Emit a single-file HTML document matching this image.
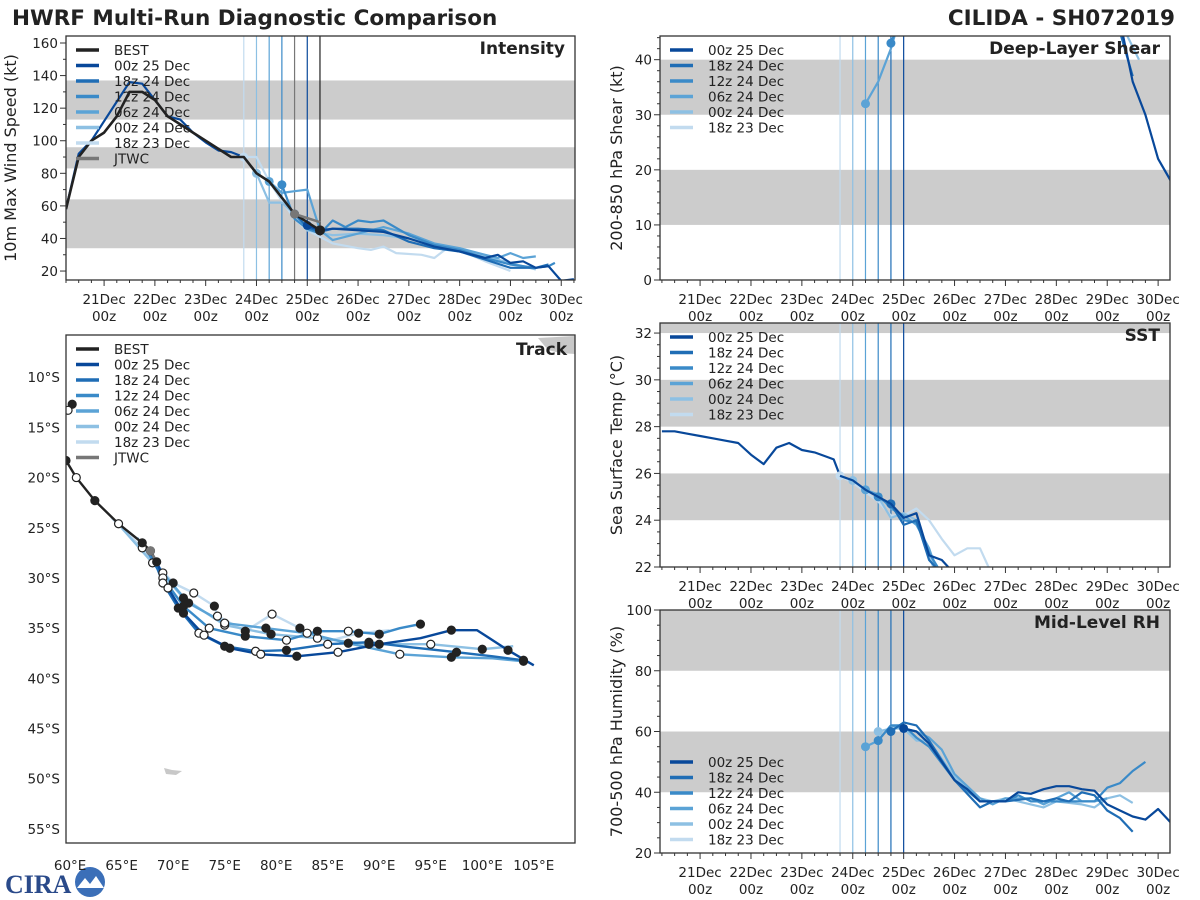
<!DOCTYPE html>
<html><head><meta charset="utf-8">
<style>
html,body{margin:0;padding:0;background:#fff;}
svg{display:block;font-family:"DejaVu Sans","Liberation Sans",sans-serif;}
</style></head>
<body>
<svg id="fig" width="1200" height="900" viewBox="0 0 1200 900">
<rect x="0" y="0" width="1200" height="900" fill="#fff"/>
<text x="12" y="25" font-size="21.5" font-weight="bold" fill="#222">HWRF Multi-Run Diagnostic Comparison</text>
<text x="1175" y="25" font-size="21.5" font-weight="bold" fill="#222" text-anchor="end">CILIDA - SH072019</text>
<g>
<text x="5" y="893" font-size="26" font-weight="bold" fill="#2a4a8a" font-family="Liberation Serif, serif">CIRA</text>
<circle cx="90" cy="882" r="15" fill="#3b6fb8"/>
<path d="M77 888 L85 878 L90 884 L96 876 L104 888 Z" fill="#fff"/>
</g>
</svg>
<script>
// ---------------- data (hours since 20 Dec 00z) ----------------
const runNames = ["00z 25 Dec","18z 24 Dec","12z 24 Dec","06z 24 Dec","00z 24 Dec","18z 23 Dec"];
const runColors = ["#08489a","#1f6db5","#3a8ac8","#5ba3d6","#8dc0e3","#c2dbef"];
const runInitHours = [120,114,108,102,96,90];
const dayTickLabels = ["21Dec","22Dec","23Dec","24Dec","25Dec","26Dec","27Dec","28Dec","29Dec","30Dec"];
const dayTickHours = [24,48,72,96,120,144,168,192,216,240];

// Intensity (kt)
const bestHours = [6,12,18,24,30,36,42,48,54,60,66,72,78,84,90,96,102,108,114,120,126];
const bestWind  = [58,90,100,105,115,130,130,125,115,110,105,100,95,90,90,80,75,65,55,50,45];
const jtwcHours = [114,126];
const jtwcWind  = [55,50];
const histHours = [6,12,18,24,30,36,42,48,54,60,66,72,78,84,90,96];
const histWind  = [58,92,100,112,124,136,135,125,115,113,105,99,94,93,90,80];
const intH0 = [120,126,132,144,156,168,180,192,204,210,216,222,228,234,240,246];
const intV0 = [48,45,46,45,44,40,35,32,28,30,25,26,22,23,14,15];
const intH1 = [114,120,126,132,144,156,168,180,192,204,216,228,234];
const intV1 = [55,47,44,46,46,45,38,34,32,27,22,22,24];
const intH2 = [108,114,120,126,132,138,144,150,156,168,180,192,204,216,228,234,237];
const intV2 = [73,52,46,43,51,47,51,50,51,42,36,33,28,24,22,23,25];
const intH3 = [102,108,114,120,126,132,144,156,168,180,192,204,210,216,222,228];
const intV3 = [75,68,69,70,45,39,43,47,43,37,34,30,28,31,28,29];
const intH4 = [96,102,108,114,120,132,144,156,168,180,192,204,216,228];
const intV4 = [80,62,62,55,45,42,43,42,40,36,34,29,25,21];
const intH5 = [90,96,102,108,114,120,132,144,150,156,162,174,180,186,192,204,216];
const intV5 = [90,90,75,63,52,45,37,34,33,35,31,30,28,34,33,26,20];

// Shear (kt)
const shrH0 = [222,228,234,240,246];
const shrV0 = [47,36,30,22,18];
const shrH1 = [222,228];
const shrV1 = [45,37];
const shrH2 = [114,117];
const shrV2 = [43,46];
const shrH3 = [102,108,114,117];
const shrV3 = [32,36,42,46];
const shrH4 = [222,231];
const shrV4 = [47,40];

// SST (C)
const sstHistH = [6,12,18,24,30,36,42,48,54,60,66,72,78,84,87,90];
const sstHistV = [27.8,27.8,27.7,27.6,27.5,27.4,27.3,26.8,26.4,27.1,27.3,27.0,26.9,26.7,26.6,25.9];
const sstH0 = [90,96,102,108,114,120,126,132,138,141];
const sstV0 = [25.9,25.7,25.3,25.0,24.7,24.1,24.3,22.5,22.3,22.0];
const sstH1 = [114,120,126,132,135];
const sstV1 = [24.7,23.8,24.0,22.3,22.0];
const sstH2 = [108,114,120,126,132,136];
const sstV2 = [25.0,24.6,24.0,23.9,22.6,22.0];
const sstH3 = [102,108,114,120,126,132,135];
const sstV3 = [25.3,25.1,24.5,24.2,23.8,22.8,22.0];
const sstH4 = [96,102,108,114,120,126,132,134];
const sstV4 = [25.7,25.3,25.0,24.1,24.3,24.0,22.5,22.0];
const sstH5 = [90,96,102,108,114,120,126,132,138,144,150,156,160];
const sstV5 = [25.9,25.6,25.2,24.8,24.2,24.2,24.5,24.0,23.2,22.5,22.8,22.8,22.0];

// RH (%)
const rhH0 = [120,126,132,138,144,150,156,162,168,174,180,186,192,198,204,210,216,222,228,234,240,246];
const rhV0 = [61,60,56,50,44,41,37,37,37,40,39.5,41,42,42,41,40.5,36,34,32,31,34.5,30];
const rhH1 = [114,120,126,132,144,156,162,168,180,186,192,198,204,210,216,222,228];
const rhV1 = [60,63,62,57,44,35,37,37,38,37,38,37,40,39,34,31.5,27];
const rhH2 = [108,114,120,126,132,144,156,168,174,180,192,204,210,216,222,228,234];
const rhV2 = [57,62,62,58,55,44,37,37,39,37,37,37,37,41.5,43,47,50];
const rhH3 = [102,108,114,120,126,132,138,144,156,162,168,180,186,192,198,204,210,216];
const rhV3 = [55,57,62,61,60,58,54,46,38,36,38,38,36,38,40,37,37,38];
const rhH4 = [108,114,120,126,132,144,156,162,168,180,186,192,204,210,216,222,228];
const rhV4 = [60,61,61,57,57,45,38,37,38,36,35,37,36,35,38,39,36.5];

// Track (lon E, lat S)
const bestLon = [59.6,60.6,62.4,64.7,67.0,67.8,68.4];
const bestLat = [18.3,20.0,22.3,24.6,26.5,27.3,28.4];
const jtwcLon = [67.8,68.6];
const jtwcLat = [27.3,28.8];
const trkLon0 = [68.4,69.5,71,73,75.5,78.5,82,86,90,94,97,99.5,102.5,105];
const trkLat0 = [28.4,31,33.5,35.7,37,37.6,37.8,37.4,36.6,36,35.2,35.2,37.2,38.7];
const trkLon1 = [67.8,69,70.5,72.5,75,78,81,85,89,93,97.5,101,104];
const trkLat1 = [27.3,30.5,33,35.5,36.8,37.3,37.2,36.6,36.4,36.9,37.4,37.8,38.2];
const trkLon2 = [67,69,71,73.5,77,81,84,87,90,92,94];
const trkLat2 = [26.5,30,32.8,35,35.8,36.2,35.3,35.3,35.6,35,34.6];
const trkLon3 = [66.5,69,71.5,75,79,83,87,92,97,101,104];
const trkLat3 = [26,29.5,32.5,34.5,35,35.5,36.5,37.6,37.9,38,38.3];
const trkLon4 = [65,68,71,75,79.5,84,89,95,100,103];
const trkLat4 = [25,28.5,32,34.7,35.6,36,36.6,36.6,37.1,36.8];
const trkLon5 = [64,67,70,72,74,74.3,77,79.6,82.3,85,88,91];
const trkLat5 = [24,27,30.5,31.5,32.8,33.8,35.3,33.6,35,36.3,35.5,35.2];
const lonTicks = [60,65,70,75,80,85,90,95,100,105];
const latTicks = [10,15,20,25,30,35,40,45,50,55];

// ---------------- drawing ----------------
const NS = "http://www.w3.org/2000/svg";
const svg = document.getElementById("fig");
function mk(tag, attrs, parent){
  const e = document.createElementNS(NS, tag);
  for (const k in attrs) e.setAttribute(k, attrs[k]);
  (parent||svg).appendChild(e);
  return e;
}
function lin(d0,d1,r0,r1){ return v => r0 + (v-d0)/(d1-d0)*(r1-r0); }

function timePanel(cfg){
  const g = mk("g", {});
  
  
  const X = lin(cfg.t0, cfg.t1, cfg.x0, cfg.x1);
  const Y = lin(cfg.v0, cfg.v1, cfg.y1, cfg.y0);
  const clipId = "clip-" + cfg.name;
  const cp = mk("clipPath", {id: clipId}, g);
  mk("rect", {x: cfg.x0, y: cfg.y0, width: cfg.x1-cfg.x0, height: cfg.y1-cfg.y0}, cp);
  cfg.bands.forEach(b => {
    const lo = Math.max(b[0], cfg.v0), hi = Math.min(b[1], cfg.v1);
    const r = mk("rect", {x: cfg.x0, y: Y(hi), width: cfg.x1-cfg.x0, height: Y(lo)-Y(hi), fill: "#cccccc"}, g);
    
    
  });
  cfg.vlines.forEach(v => {
    const l = mk("line", {x1: X(v[0]), x2: X(v[0]), y1: cfg.y0, y2: cfg.y1, stroke: v[1], "stroke-width": 1.2}, g);
    
    
  });
  const plot = mk("g", {"clip-path": "url(#" + clipId + ")"}, g);
  cfg.series.forEach(s => {
    const pts = s.h.map((h,i) => X(h).toFixed(1) + "," + Y(s.v[i]).toFixed(1)).join(" ");
    const pl = mk("polyline", {points: pts, fill: "none", stroke: s.color, "stroke-width": s.w || 2.2, "stroke-linejoin": "round"}, plot);
    
    
    if (s.dot) {
      const c = mk("circle", {cx: X(s.h[0]), cy: Y(s.v[0]), r: 4.5, fill: s.color}, plot);
      
      
    }
    if (s.endDot) {
      const n = s.h.length-1;
      const c = mk("circle", {cx: X(s.h[n]), cy: Y(s.v[n]), r: 5, fill: s.color}, plot);
      
      
    }
  });
  const fr = mk("rect", {x: cfg.x0, y: cfg.y0, width: cfg.x1-cfg.x0, height: cfg.y1-cfg.y0, fill: "none", stroke: "#333", "stroke-width": 1.3}, g);
  
  
  for (let h = Math.ceil(cfg.t0/6)*6; h <= cfg.t1; h += 6) {
    const maj = h % 24 === 0;
    mk("line", {x1: X(h), x2: X(h), y1: cfg.y1, y2: cfg.y1 + (maj?6:3), stroke: "#333", "stroke-width": 1}, g);
  }
  dayTickHours.forEach((h,i) => {
    const t1 = mk("text", {x: X(h), y: cfg.y1+24, "font-size": 13.5, fill: "#222", "text-anchor": "middle"}, g);
    t1.textContent = dayTickLabels[i];
    
    
    const t2 = mk("text", {x: X(h), y: cfg.y1+41, "font-size": 13.5, fill: "#222", "text-anchor": "middle"}, g);
    t2.textContent = "00z";
    
    
  });
  for (let v = Math.ceil(cfg.v0/cfg.minor)*cfg.minor; v <= cfg.v1 + 1e-9; v += cfg.minor) {
    const maj = Math.abs(Math.round(v/cfg.major)*cfg.major - v) < 1e-6;
    mk("line", {x1: cfg.x0, x2: cfg.x0 - (maj?6:3), y1: Y(v), y2: Y(v), stroke: "#333", "stroke-width": 1}, g);
    if (maj) {
      const t = mk("text", {x: cfg.x0-8, y: Y(v)+5, "font-size": 13.5, fill: "#222", "text-anchor": "end"}, g);
      t.textContent = String(Math.round(v));
      
      
    }
  }
  const yt = mk("text", {x: 0, y: 0, "font-size": 16, fill: "#222", "text-anchor": "middle", transform: "translate(" + cfg.ytx + "," + ((cfg.y0+cfg.y1)/2) + ") rotate(-90)"}, g);
  yt.textContent = cfg.ytitle;
  
  
  const tt = mk("text", {x: cfg.x1-10, y: cfg.y0+18, "font-size": 17, "font-weight": "bold", fill: "#222", "text-anchor": "end"}, g);
  tt.textContent = cfg.title;
  
  
  legend(g, cfg.legend, cfg.x0+10, cfg.legY, cfg.legStep);
}

function legend(g, items, x, y, step){
  const lg = mk("g", {}, g);
  
  
  items.forEach((it,i) => {
    const e = mk("g", {}, lg);
    
    
    mk("line", {x1: x, x2: x+23, y1: y+i*step, y2: y+i*step, stroke: it[1], "stroke-width": 3.5}, e);
    const t = mk("text", {x: x+38, y: y+i*step+5, "font-size": 13.5, fill: "#222"}, e);
    t.textContent = it[0];
  });
}

const runLegend = runNames.map((n,i) => [n, runColors[i]]);
const fullLegend = [["BEST","#222"]].concat(runLegend).concat([["JTWC","#777"]]);
const timeVlines = runInitHours.map((h,i) => [h, runColors[i]]);

timePanel({name:"intensity", x0:66, x1:575, y0:36, y1:280, t0:6, t1:246.5, v0:14.5, v1:164.3,
  bands:[[34,64],[83,96],[113,137]], major:20, minor:10,
  vlines: [[90,runColors[5]],[96,runColors[4]],[102,runColors[3]],[108,runColors[2]],[114,"#777"],[120,runColors[0]],[126,"#222"]],
  series: [
    {label:"history-00z-25-dec", h:histHours, v:histWind, color:runColors[0]},
    {label:"forecast-18z-23-dec", h:intH5, v:intV5, color:runColors[5], dot:true},
    {label:"forecast-00z-24-dec", h:intH4, v:intV4, color:runColors[4], dot:true},
    {label:"forecast-06z-24-dec", h:intH3, v:intV3, color:runColors[3], dot:true},
    {label:"forecast-12z-24-dec", h:intH2, v:intV2, color:runColors[2], dot:true},
    {label:"forecast-18z-24-dec", h:intH1, v:intV1, color:runColors[1], dot:true},
    {label:"forecast-00z-25-dec", h:intH0, v:intV0, color:runColors[0], dot:true},
    {label:"best-track-intensity", h:bestHours, v:bestWind, color:"#222", w:2.6, endDot:true},
    {label:"jtwc-intensity", h:jtwcHours, v:jtwcWind, color:"#777", w:2.6, dot:true}
  ],
  ytitle:"10m Max Wind Speed (kt)", ytx:16, title:"Intensity", legend: fullLegend, legY:50, legStep:15.5});

timePanel({name:"shear", x0:660, x1:1170, y0:36, y1:280, t0:5.1, t1:245.6, v0:0, v1:44.3,
  bands:[[10,20],[30,40]], major:10, minor:2,
  vlines: timeVlines.slice().reverse(),
  series: [
    {label:"shear-06z-24-dec", h:shrH3, v:shrV3, color:runColors[3], dot:true},
    {label:"shear-12z-24-dec", h:shrH2, v:shrV2, color:runColors[2], dot:true},
    {label:"shear-00z-24-dec", h:shrH4, v:shrV4, color:runColors[4]},
    {label:"shear-18z-24-dec", h:shrH1, v:shrV1, color:runColors[1]},
    {label:"shear-00z-25-dec", h:shrH0, v:shrV0, color:runColors[0]}
  ],
  ytitle:"200-850 hPa Shear (kt)", ytx:622, title:"Deep-Layer Shear", legend: runLegend, legY:50, legStep:15.5});

timePanel({name:"sst", x0:660, x1:1170, y0:323, y1:567, t0:5.1, t1:245.6, v0:22, v1:32.43,
  bands:[[24,26],[28,30],[32,33]], major:2, minor:0.5,
  vlines: timeVlines.slice().reverse(),
  series: [
    {label:"sst-history", h:sstHistH, v:sstHistV, color:runColors[0]},
    {label:"sst-18z-23-dec", h:sstH5, v:sstV5, color:runColors[5], dot:true},
    {label:"sst-00z-24-dec", h:sstH4, v:sstV4, color:runColors[4], dot:true},
    {label:"sst-06z-24-dec", h:sstH3, v:sstV3, color:runColors[3], dot:true},
    {label:"sst-12z-24-dec", h:sstH2, v:sstV2, color:runColors[2], dot:true},
    {label:"sst-18z-24-dec", h:sstH1, v:sstV1, color:runColors[1], dot:true},
    {label:"sst-00z-25-dec", h:sstH0, v:sstV0, color:runColors[0]}
  ],
  ytitle:"Sea Surface Temp (°C)", ytx:622, title:"SST", legend: runLegend, legY:337, legStep:15.5});

timePanel({name:"rh", x0:660, x1:1170, y0:610, y1:853, t0:5.1, t1:245.6, v0:20, v1:100,
  bands:[[40,60],[80,100]], major:20, minor:5,
  vlines: timeVlines.slice().reverse(),
  series: [
    {label:"rh-00z-24-dec", h:rhH4, v:rhV4, color:runColors[4], dot:true},
    {label:"rh-06z-24-dec", h:rhH3, v:rhV3, color:runColors[3], dot:true},
    {label:"rh-12z-24-dec", h:rhH2, v:rhV2, color:runColors[2], dot:true},
    {label:"rh-18z-24-dec", h:rhH1, v:rhV1, color:runColors[1], dot:true},
    {label:"rh-00z-25-dec", h:rhH0, v:rhV0, color:runColors[0], dot:true}
  ],
  ytitle:"700-500 hPa Humidity (%)", ytx:622, title:"Mid-Level RH", legend: runLegend, legY:762, legStep:15.5});

(function(){
  const x0=66,x1=575,y0=335,y1=843;
  const X = lin(59.6,109,x0,x1), Y = lin(5.8,56.4,y0,y1);
  const g = mk("g", {});
  
  
  const cp = mk("clipPath", {id:"clip-track"}, g);
  mk("rect", {x:x0,y:y0,width:x1-x0,height:y1-y0}, cp);
  const plot = mk("g", {"clip-path":"url(#clip-track)"}, g);
  const land = mk("path", {d:"M538 338 L575 336 L575 354 L560 353 L548 350 Z", fill:"#c8c8c8"}, plot);
  
  
  const isl = mk("path", {d:"M164 768 L172 770 L182 771 L176 775 L166 774 Z", fill:"#c8c8c8"}, plot);
  
  
  const tr = [[trkLon5,trkLat5,5],[trkLon4,trkLat4,4],[trkLon3,trkLat3,3],[trkLon2,trkLat2,2],[trkLon1,trkLat1,1],[trkLon0,trkLat0,0]];
  tr.forEach(t => {
    const pts = t[0].map((lo,i) => X(lo).toFixed(1)+","+Y(t[1][i]).toFixed(1)).join(" ");
    const pl = mk("polyline", {points:pts, fill:"none", stroke:runColors[t[2]], "stroke-width":2.4, "stroke-linejoin":"round"}, plot);
    
    
  });
  const bp = bestLon.map((lo,i) => X(lo).toFixed(1)+","+Y(bestLat[i]).toFixed(1)).join(" ");
  const bl = mk("polyline", {points:bp, fill:"none", stroke:"#222", "stroke-width":2.4}, plot);
  
  
  const jp = jtwcLon.map((lo,i) => X(lo).toFixed(1)+","+Y(jtwcLat[i]).toFixed(1)).join(" ");
  const jl = mk("polyline", {points:jp, fill:"none", stroke:"#777", "stroke-width":2.6}, plot);
  
  
  tr.concat([[bestLon,bestLat,-1]]).forEach(t => {
    t[0].forEach((lo,i) => {
      if (i === 0 && t[2] >= 0) return;
      if (i % 2 === 1 && t[2] >= 0 && i > 8) return;
      const filled = (i % 2 === 0);
      const c = mk("circle", {cx:X(lo), cy:Y(t[1][i]), r:4, fill: filled?"#222":"#fff", stroke:"#222", "stroke-width":1.2}, plot);
      
      
    });
  });
  const jd = mk("circle", {cx:X(jtwcLon[0]), cy:Y(jtwcLat[0]), r:4.5, fill:"#777"}, plot);
  
  
  [[60.2,12.7,"#222"],[59.8,13.3,"#fff"]].forEach(p => {
    const c = mk("circle", {cx:X(p[0]), cy:Y(p[1]), r:4, fill:p[2], stroke:"#222", "stroke-width":1.2}, plot);
    
    
  });
  const fr = mk("rect", {x:x0,y:y0,width:x1-x0,height:y1-y0,fill:"none",stroke:"#333","stroke-width":1.3}, g);
  
  
  lonTicks.forEach(lo => {
    const t = mk("text", {x:X(lo), y:y1+27, "font-size":13.5, fill:"#222", "text-anchor":"middle"}, g);
    t.textContent = lo + "°E";
    
    
  });
  latTicks.forEach(la => {
    const t = mk("text", {x:x0-6, y:Y(la)+5, "font-size":13.5, fill:"#222", "text-anchor":"end"}, g);
    t.textContent = la + "°S";
    
    
  });
  const tt = mk("text", {x:x1-8, y:y0+20, "font-size":17, "font-weight":"bold", fill:"#222", "text-anchor":"end"}, g);
  tt.textContent = "Track";
  
  
  legend(g, fullLegend, x0+10, 349, 15.5);
})();
</script>
</body></html>
